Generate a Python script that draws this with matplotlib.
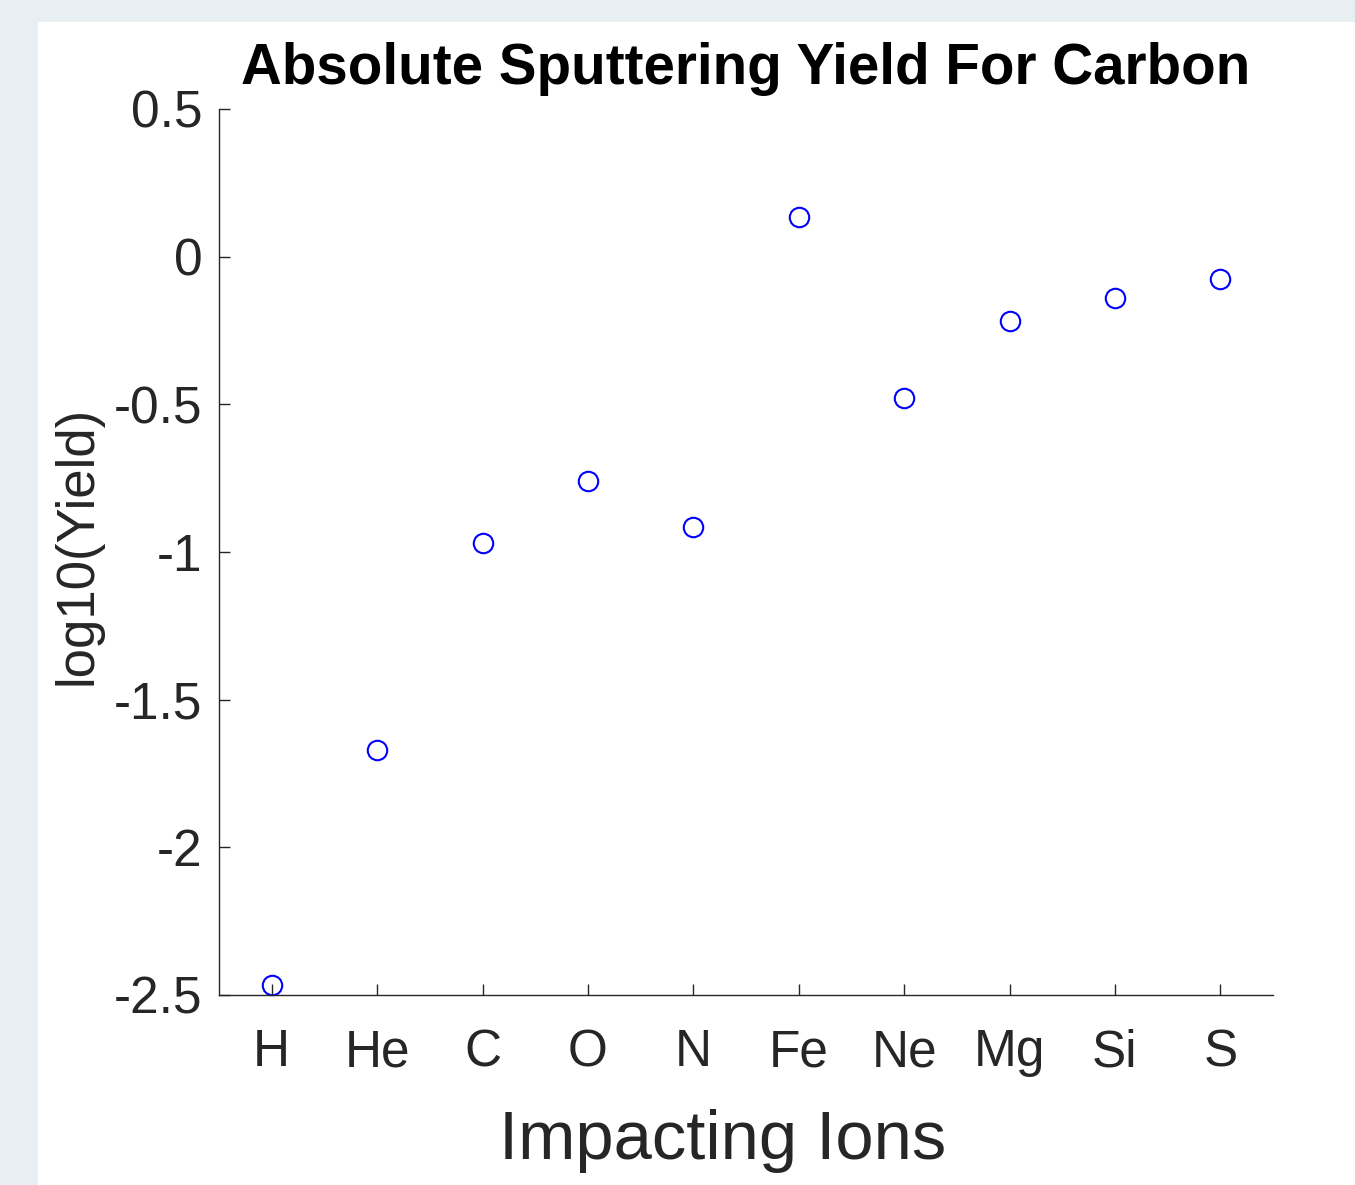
import numpy as np
import matplotlib
matplotlib.use('Agg')
import matplotlib.pyplot as plt
from matplotlib.patches import Rectangle

# ----------------------------- data
ions = ['H', 'He', 'C', 'O', 'N', 'Fe', 'Ne', 'Mg', 'Si', 'S']
log_yield = [-2.465, -1.669, -0.968, -0.759, -0.914, 0.135, -0.477, -0.217, -0.139, -0.075]
y_ticks = [-2.5, -2, -1.5, -1, -0.5, 0, 0.5]
y_tick_labels = ['-2.5', '-2', '-1.5', '-1', '-0.5', '0', '0.5']

# ----------------------------- plotting
plt.rcParams['font.family'] = ['Liberation Sans', 'DejaVu Sans']
txt = '#262626'

fig = plt.figure(figsize=(13.55, 11.85), dpi=100, facecolor='#e7eff2')
# white canvas area (light border top/left like the original screenshot)
fig.add_artist(Rectangle((38 / 1355, 0), 1 - 38 / 1355, 1 - 22 / 1185,
                         transform=fig.transFigure, facecolor='white',
                         edgecolor='none', zorder=-10))

ax = fig.add_axes([219 / 1355, 1 - 995 / 1185, (1273 - 219) / 1355, (995 - 109) / 1185])
ax.set_zorder(1)
x = np.arange(1, len(ions) + 1)
ax.plot(x, log_yield, 'o', mfc='none', mec='blue', ms=14, mew=1.5, clip_on=False)

ax.set_xlim(0.5, 10.5)
ax.set_ylim(-2.5, 0.5)
ax.set_xticks(x)
ax.set_xticklabels(ions)
ax.set_yticks(y_ticks)
ax.set_yticklabels(y_tick_labels)

for s in ['top', 'right']:
    ax.spines[s].set_visible(False)
for s in ['left', 'bottom']:
    ax.spines[s].set_color(txt)
    ax.spines[s].set_linewidth(1.0)

ax.tick_params(direction='in', length=8, width=1.0, color=txt,
               labelsize=37, labelcolor=txt)
ax.tick_params(axis='x', pad=24)
ax.tick_params(axis='y', pad=12)

ax.set_xlabel('Impacting Ions', fontsize=49.5, color=txt, labelpad=23)
ax.xaxis.label.set_x(0.478)
ax.set_ylabel('log10(Yield)', fontsize=38, color=txt, labelpad=8)
ax.yaxis.label.set_y(0.507)
ax.set_title('Absolute Sputtering Yield For Carbon', fontsize=40.7, fontweight='bold',
             color='black', pad=18)

plt.savefig('out.png', dpi=100, facecolor=fig.get_facecolor())
